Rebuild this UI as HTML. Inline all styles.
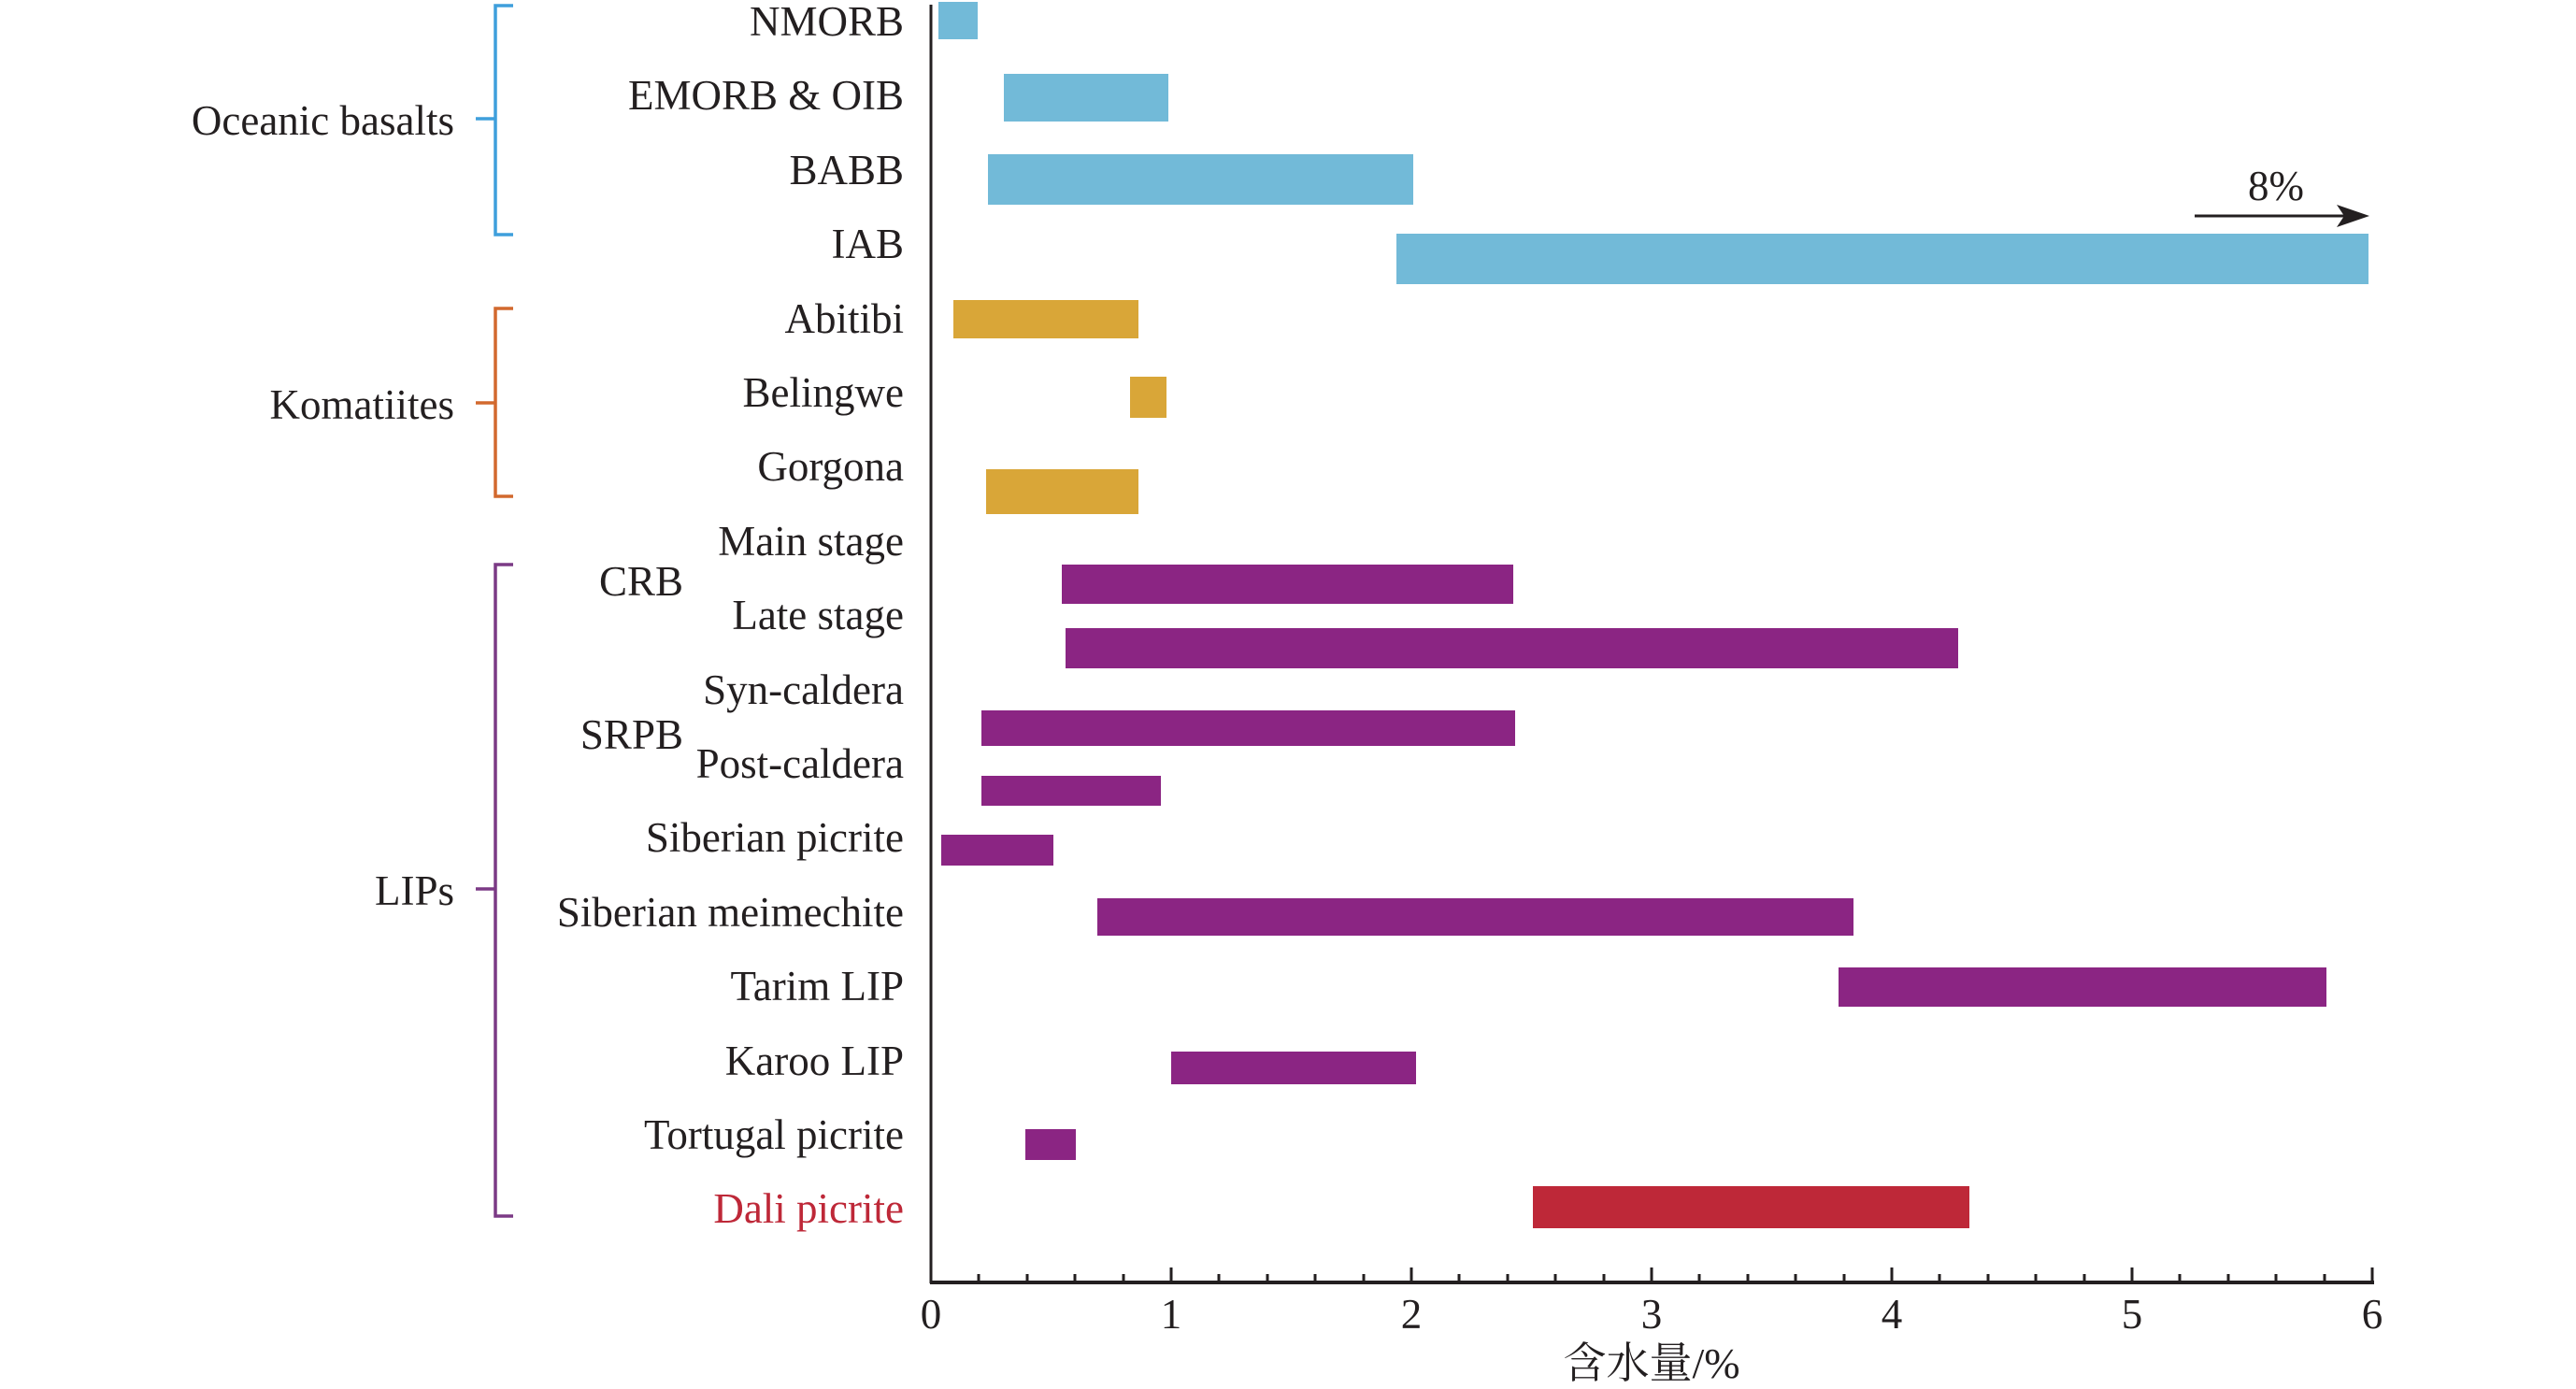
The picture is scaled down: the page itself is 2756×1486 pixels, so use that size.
<!DOCTYPE html>
<html><head><meta charset="utf-8"><style>html,body{margin:0;padding:0;background:#fff}svg{display:block}</style></head>
<body>
<svg width="2756" height="1486" viewBox="0 0 2756 1486" xmlns="http://www.w3.org/2000/svg" font-family="'Liberation Serif', 'Noto Serif CJK SC', serif" font-size="45" fill="#231f20">
<!-- bars -->
<g fill="#72bad8">
<rect x="1004" y="2" width="42" height="40"/>
<rect x="1074" y="79" width="176" height="51"/>
<rect x="1057" y="165" width="455" height="54"/>
<rect x="1494" y="250" width="1040" height="54"/>
</g>
<g fill="#d9a638">
<rect x="1020" y="321" width="198" height="41"/>
<rect x="1209" y="403" width="39" height="44"/>
<rect x="1055" y="502" width="163" height="48"/>
</g>
<g fill="#8b2583">
<rect x="1136" y="604" width="483" height="42"/>
<rect x="1140" y="672" width="955" height="43"/>
<rect x="1050" y="760" width="571" height="38"/>
<rect x="1050" y="830" width="192" height="32"/>
<rect x="1007" y="893" width="120" height="33"/>
<rect x="1174" y="961" width="809" height="40"/>
<rect x="1967" y="1035" width="522" height="42"/>
<rect x="1253" y="1125" width="262" height="35"/>
<rect x="1097" y="1208" width="54" height="33"/>
</g>
<rect x="1640" y="1269" width="467" height="45" fill="#be2838"/>
<!-- arrow -->
<line x1="2348" y1="231" x2="2515" y2="231" stroke="#231f20" stroke-width="3"/>
<polygon points="2535,231 2500,219 2508,231 2500,243" fill="#231f20"/>
<text x="2435" y="214" text-anchor="middle">8%</text>
<!-- axes -->
<line x1="996" y1="5" x2="996" y2="1373" stroke="#231f20" stroke-width="3"/>
<line x1="995" y1="1372" x2="2540" y2="1372" stroke="#231f20" stroke-width="4"/>
<g stroke="#231f20" stroke-width="3">
<line x1="1253" y1="1372" x2="1253" y2="1356"/><line x1="1510" y1="1372" x2="1510" y2="1356"/><line x1="1767" y1="1372" x2="1767" y2="1356"/><line x1="2024" y1="1372" x2="2024" y2="1356"/><line x1="2281" y1="1372" x2="2281" y2="1356"/><line x1="2538" y1="1372" x2="2538" y2="1356"/>
<line x1="1047" y1="1372" x2="1047" y2="1363"/><line x1="1099" y1="1372" x2="1099" y2="1363"/><line x1="1150" y1="1372" x2="1150" y2="1363"/><line x1="1202" y1="1372" x2="1202" y2="1363"/>
<line x1="1304" y1="1372" x2="1304" y2="1363"/><line x1="1356" y1="1372" x2="1356" y2="1363"/><line x1="1407" y1="1372" x2="1407" y2="1363"/><line x1="1459" y1="1372" x2="1459" y2="1363"/>
<line x1="1561" y1="1372" x2="1561" y2="1363"/><line x1="1613" y1="1372" x2="1613" y2="1363"/><line x1="1664" y1="1372" x2="1664" y2="1363"/><line x1="1716" y1="1372" x2="1716" y2="1363"/>
<line x1="1818" y1="1372" x2="1818" y2="1363"/><line x1="1870" y1="1372" x2="1870" y2="1363"/><line x1="1921" y1="1372" x2="1921" y2="1363"/><line x1="1973" y1="1372" x2="1973" y2="1363"/>
<line x1="2075" y1="1372" x2="2075" y2="1363"/><line x1="2127" y1="1372" x2="2127" y2="1363"/><line x1="2178" y1="1372" x2="2178" y2="1363"/><line x1="2230" y1="1372" x2="2230" y2="1363"/>
<line x1="2332" y1="1372" x2="2332" y2="1363"/><line x1="2384" y1="1372" x2="2384" y2="1363"/><line x1="2435" y1="1372" x2="2435" y2="1363"/><line x1="2487" y1="1372" x2="2487" y2="1363"/>
</g>
<g text-anchor="middle">
<text x="996" y="1421">0</text><text x="1253" y="1421">1</text><text x="1510" y="1421">2</text><text x="1767" y="1421">3</text><text x="2024" y="1421">4</text><text x="2281" y="1421">5</text><text x="2538" y="1421">6</text>
<text x="1767" y="1474" font-size="46" font-family="'Liberation Serif','Noto Serif CJK SC',serif">含水量/%</text>
</g>
<!-- row labels -->
<g text-anchor="end" dominant-baseline="central">
<text x="967" y="23">NMORB</text>
<text x="967" y="102">EMORB &amp; OIB</text>
<text x="967" y="182">BABB</text>
<text x="967" y="261">IAB</text>
<text x="967" y="341">Abitibi</text>
<text x="967" y="420">Belingwe</text>
<text x="967" y="499">Gorgona</text>
<text x="967" y="579">Main stage</text>
<text x="967" y="658">Late stage</text>
<text x="967" y="738">Syn-caldera</text>
<text x="967" y="817">Post-caldera</text>
<text x="967" y="896">Siberian picrite</text>
<text x="967" y="976">Siberian meimechite</text>
<text x="967" y="1055">Tarim LIP</text>
<text x="967" y="1135">Karoo LIP</text>
<text x="967" y="1214">Tortugal picrite</text>
<text x="967" y="1293" fill="#be2838">Dali picrite</text>
<text x="731" y="622">CRB</text>
<text x="731" y="786">SRPB</text>
<text x="486" y="129">Oceanic basalts</text>
<text x="486" y="433">Komatiites</text>
<text x="486" y="953">LIPs</text>
</g>
<!-- brackets -->
<g fill="none" stroke-width="3.5">
<path d="M549,6 H530 V251 H549 M530,127 H509" stroke="#3f9fdc"/>
<path d="M549,330 H530 V531 H549 M530,431 H509" stroke="#d2692e"/>
<path d="M549,604 H530 V1301 H549 M530,951 H509" stroke="#7b3a85"/>
</g>
</svg>
</body></html>
